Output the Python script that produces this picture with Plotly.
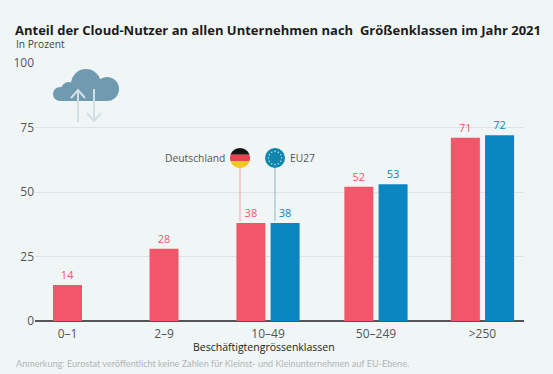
import math
import plotly.graph_objects as go

categories = ["0–1", "2–9", "10–49", "50–249", ">250"]
category_slots = [0, 0.928, 1.928, 2.966, 3.99]
deutschland = [14, 28, 38, 52, 71]
eu27 = [None, None, 38, 53, 72]
y_ticks = [0, 25, 50, 75, 100]

TITLE = "Anteil der Cloud-Nutzer an allen Unternehmen nach  Größenklassen im Jahr 2021"
SUBTITLE = "In Prozent"
X_TITLE = "Beschäftigtengrössenklassen"
NOTE = "Anmerkung: Eurostat veröffentlicht keine Zahlen für Kleinst- und Kleinunternehmen auf EU-Ebene."

RED = "#f2566a"
BLUE = "#0a86c0"
BG = "#f0f6f6"
W, H = 553, 374
L, R, T, B = 35, 29, 63, 53
PW, PH = W - L - R, H - T - B
BAR_W = 0.279
GAP = 0.05

FONT = "Open Sans"


def px(x):
    return (x - L) / PW


def py(y):
    return 1 - (y - T) / PH


def circle(cx, cy, r, color):
    return dict(type="circle", xref="paper", yref="paper", layer="above",
                x0=px(cx - r), x1=px(cx + r), y0=py(cy + r), y1=py(cy - r),
                fillcolor=color, line=dict(width=0))


def rect(x0, y0, x1, y1, color):
    return dict(type="rect", xref="paper", yref="paper", layer="above",
                x0=px(x0), x1=px(x1), y0=py(y1), y1=py(y0),
                fillcolor=color, line=dict(width=0))


def polyline(points, color, width):
    d = "M" + " L".join(f"{px(a):.5f},{py(b):.5f}" for a, b in points)
    return dict(type="path", xref="paper", yref="paper", layer="above", path=d,
                line=dict(color=color, width=width), fillcolor="rgba(0,0,0,0)")


def arc_band(cx, cy, r, y0, y1, color):
    """Horizontal band of a flag disc."""
    pts = []
    n = 14
    for i in range(n + 1):
        y = y0 + (y1 - y0) * i / n
        pts.append((cx - math.sqrt(max(r * r - (y - cy) ** 2, 0)), y))
    for i in range(n + 1):
        y = y1 + (y0 - y1) * i / n
        pts.append((cx + math.sqrt(max(r * r - (y - cy) ** 2, 0)), y))
    d = "M" + " L".join(f"{px(a):.5f},{py(b):.5f}" for a, b in pts) + " Z"
    return dict(type="path", xref="paper", yref="paper", layer="above", path=d,
                fillcolor=color, line=dict(width=0))


red_offsets = [-BAR_W / 2 if v is None else -BAR_W - GAP / 2 for v in eu27]

fig = go.Figure()
fig.add_trace(go.Bar(
    x=category_slots, y=deutschland, name="Deutschland", width=BAR_W, offset=red_offsets,
    marker=dict(color=RED, line=dict(width=0)),
    text=[str(v) for v in deutschland], textposition="outside", cliponaxis=False,
    textfont=dict(color=RED, size=11, family=FONT),
))
fig.add_trace(go.Bar(
    x=category_slots, y=eu27, name="EU27", width=BAR_W, offset=GAP / 2,
    marker=dict(color=BLUE, line=dict(width=0)),
    text=["" if v is None else str(v) for v in eu27], textposition="outside", cliponaxis=False,
    textfont=dict(color=BLUE, size=11, family=FONT),
))

shapes = []
CLOUD = "#6f9ab0"
ARROW = "#d2dfe4"
shapes += [polyline([(78, 122), (78, 90)], ARROW, 2),
           polyline([(94, 89), (94, 121)], ARROW, 2),
           polyline([(87, 113), (94, 121), (101, 113)], ARROW, 2)]
shapes += [circle(86, 84, 15, CLOUD), circle(107, 89, 12, CLOUD), circle(69, 90, 8, CLOUD),
           circle(60, 94, 7, CLOUD), rect(60, 90, 108, 101, CLOUD)]
shapes += [polyline([(78, 101), (78, 90)], ARROW, 2),
           polyline([(71, 98), (78, 90), (85, 98)], ARROW, 2),
           polyline([(94, 89), (94, 101)], ARROW, 2)]
shapes += [polyline([(240, 168), (240, 221)], "#f0a3ab", 1),
           polyline([(275, 168), (275, 221)], "#86b8d2", 1)]
shapes += [arc_band(240, 158, 10, 148, 154.7, "#151515"),
           arc_band(240, 158, 10, 154.7, 161.3, "#e8434f"),
           arc_band(240, 158, 10, 161.3, 168, "#f6c81e")]
shapes.append(circle(275, 158, 10, "#0f86ad"))
for i in range(12):
    a = i * math.pi / 6
    shapes.append(circle(275 + 6.6 * math.cos(a), 158 + 6.6 * math.sin(a), 0.8, "#b9dfe8"))

annotations = [
    dict(text=TITLE, x=px(13), y=py(29.5), xanchor="left", yanchor="middle",
         font=dict(size=13, color="#1c1c1c", family=FONT, weight="bold")),
    dict(text=SUBTITLE, x=px(13.5), y=py(44), xanchor="left", yanchor="middle",
         font=dict(size=10.2, color="#444444", family=FONT)),
    dict(text=X_TITLE, x=px(264), y=py(347), xanchor="center", yanchor="middle",
         font=dict(size=10.5, color="#222222", family=FONT)),
    dict(text=NOTE, x=px(13.5), y=py(363), xanchor="left", yanchor="middle",
         font=dict(size=9.1, color="#b0b5b5", family="Lato")),
    dict(text="Deutschland", x=px(227), y=py(158), xanchor="right", yanchor="middle",
         font=dict(size=10.3, color="#555555", family=FONT)),
    dict(text="EU27", x=px(288), y=py(158), xanchor="left", yanchor="middle",
         font=dict(size=10.3, color="#555555", family=FONT)),
]
for a in annotations:
    a.update(xref="paper", yref="paper", showarrow=False)

fig.update_layout(
    width=W, height=H, autosize=False, barmode="overlay", showlegend=False,
    margin=dict(l=L, r=R, t=T, b=B), paper_bgcolor=BG, plot_bgcolor=BG,
    font=dict(family=FONT, color="#555555", size=12),
    shapes=shapes, annotations=annotations,
    xaxis=dict(range=[(L - 67.5) / 104, (W - R - 67.5) / 104], tickmode="array",
               tickvals=category_slots, ticktext=categories, showgrid=False, zeroline=False,
               showline=False, ticks="outside", ticklen=2, tickcolor=BG,
               tickfont=dict(size=12, color="#555555")),
    yaxis=dict(range=[0, 100], tickmode="array", tickvals=y_ticks, showgrid=True,
               gridcolor="#dde2e2", gridwidth=1, zeroline=True, zerolinecolor="#555555",
               zerolinewidth=1.5, showline=False, ticks="", tickfont=dict(size=12, color="#555555")),
)
fig.write_html("out.html", config={"displayModeBar": False},
               post_script="document.body.style.margin='0';document.documentElement.style.overflow='hidden';document.documentElement.style.background='%s';" % BG)
